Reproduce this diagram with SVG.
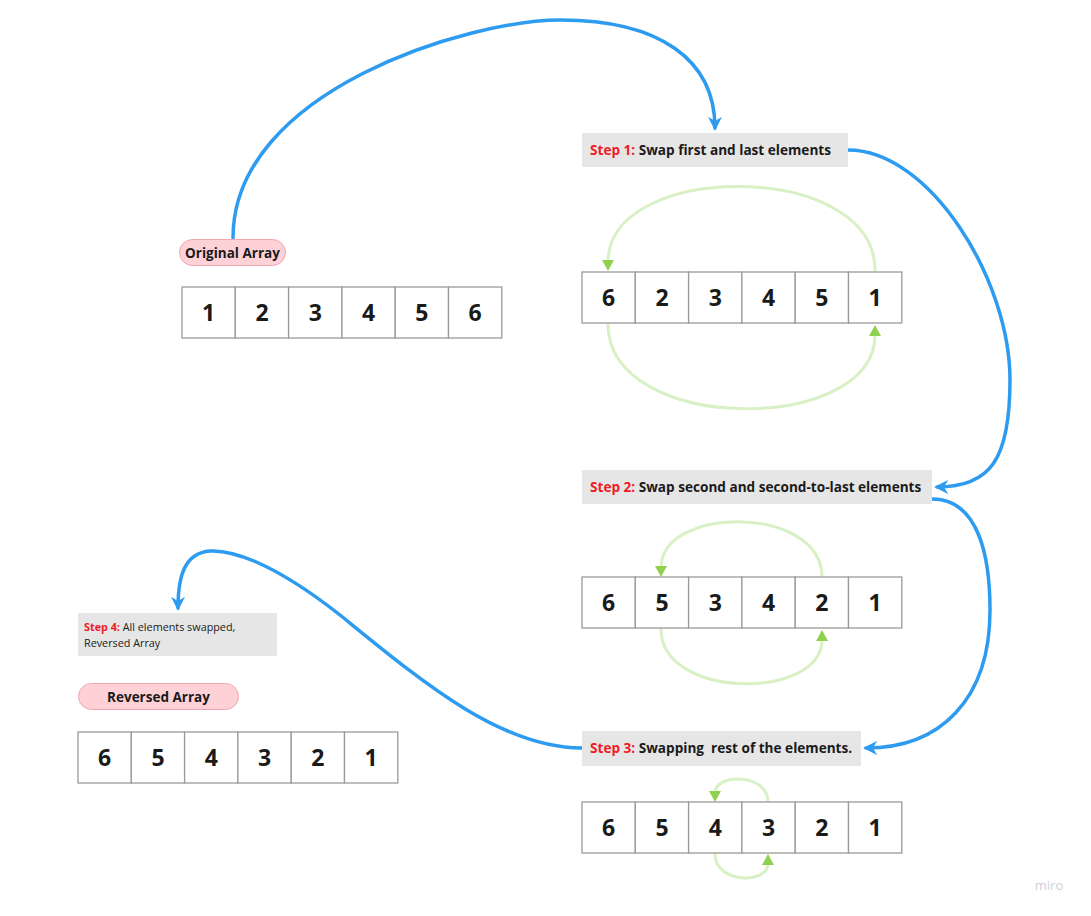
<svg xmlns="http://www.w3.org/2000/svg" width="1091" height="916" viewBox="0 0 1091 916">
<defs>
<style>
.t{font-family:"Open Sans","Noto Sans","Liberation Sans",sans-serif;fill:#1a1a1a;white-space:pre}
.num{font-size:23px;font-weight:700;text-anchor:middle}
.cell{fill:#ffffff;stroke:#9a9a9a;stroke-width:1.3}
.pill{fill:#fdd1d6;stroke:#f2a4ae;stroke-width:1}
.step{fill:#e6e6e6}
.st{font-size:13.6px;font-weight:700}
.red{fill:#ee1c25}
.blue{fill:none;stroke:#2d9bf0;stroke-width:3.5;stroke-linecap:round}
.green{fill:none;stroke:#d9f0c4;stroke-width:3;stroke-linecap:round}
.gh{fill:#8fd14f}
</style>
<marker id="ab" viewBox="0 0 10 10" refX="8" refY="5" markerWidth="4" markerHeight="4" orient="auto" markerUnits="strokeWidth">
<path d="M0,0 L10,5 L0,10 L3,5 Z" fill="#2d9bf0"/>
</marker>
</defs>
<rect width="1091" height="916" fill="#ffffff"/>

<g id="connectors">
<path class="blue" d="M233,238 C233,90 470,20 560,20 C660,20 715,60 715,128" marker-end="url(#ab)"/>
<path class="blue" d="M848,150 C930,150 1010,280 1010,380 C1010,460 990,487 937,487" marker-end="url(#ab)"/>
<path class="blue" d="M932,499 C980,499 990,560 990,610 C990,700 940,748 866,748" marker-end="url(#ab)"/>
<path class="blue" d="M582,748 C500,748 420,680 340,615 C270,560 230,550 210,551 C185,553 178,575 178,608" marker-end="url(#ab)"/>

<path class="green" d="M875,270 C875,160 608,160 608,262"/>
<path class="gh" d="M602,260 L614,260 L608,271 Z"/>
<path class="green" d="M608,324 C608,435 875,435 875,335"/>
<path class="gh" d="M869,336 L881,336 L875,325 Z"/>

<path class="green" d="M822,577 C822,505 661,505 661,568"/>
<path class="gh" d="M655,566 L667,566 L661,577 Z"/>
<path class="green" d="M661,629 C661,700 822,700 822,640"/>
<path class="gh" d="M816,641 L828,641 L822,630 Z"/>

<path class="green" d="M768,802 C768,773 715,773 715,793"/>
<path class="gh" d="M709,791 L721,791 L715,802 Z"/>
<path class="green" d="M715,854 C715,884 768,884 768,864"/>
<path class="gh" d="M762,865 L774,865 L768,854 Z"/>
</g>

<g id="original-label">
<rect class="pill" x="179.5" y="239.5" width="106" height="26" rx="13"/>
<text class="t" x="232.5" y="257.5" font-size="13.5" font-weight="700" text-anchor="middle">Original Array</text>
</g>

<g id="array-original">
<rect class="cell" x="182" y="287" width="53.3" height="51"/><text class="t num" x="208.6" y="321">1</text>
<rect class="cell" x="235.3" y="287" width="53.3" height="51"/><text class="t num" x="262" y="321">2</text>
<rect class="cell" x="288.6" y="287" width="53.3" height="51"/><text class="t num" x="315.3" y="321">3</text>
<rect class="cell" x="341.9" y="287" width="53.3" height="51"/><text class="t num" x="368.6" y="321">4</text>
<rect class="cell" x="395.2" y="287" width="53.3" height="51"/><text class="t num" x="421.9" y="321">5</text>
<rect class="cell" x="448.5" y="287" width="53.3" height="51"/><text class="t num" x="475.2" y="321">6</text>
</g>

<g id="step1">
<rect class="step" x="582" y="133" width="266" height="34"/>
<text class="t st" x="590" y="155"><tspan class="red">Step 1:</tspan> Swap first and last elements</text>
</g>

<g id="array-step1">
<rect class="cell" x="582" y="272" width="53.3" height="51"/><text class="t num" x="608.6" y="306">6</text>
<rect class="cell" x="635.3" y="272" width="53.3" height="51"/><text class="t num" x="662" y="306">2</text>
<rect class="cell" x="688.6" y="272" width="53.3" height="51"/><text class="t num" x="715.3" y="306">3</text>
<rect class="cell" x="741.9" y="272" width="53.3" height="51"/><text class="t num" x="768.6" y="306">4</text>
<rect class="cell" x="795.2" y="272" width="53.3" height="51"/><text class="t num" x="821.9" y="306">5</text>
<rect class="cell" x="848.5" y="272" width="53.3" height="51"/><text class="t num" x="875.2" y="306">1</text>
</g>

<g id="step2">
<rect class="step" x="582" y="470" width="350" height="34"/>
<text class="t st" x="590" y="492"><tspan class="red">Step 2:</tspan> Swap second and second-to-last elements</text>
</g>

<g id="array-step2">
<rect class="cell" x="582" y="577" width="53.3" height="51"/><text class="t num" x="608.6" y="611">6</text>
<rect class="cell" x="635.3" y="577" width="53.3" height="51"/><text class="t num" x="662" y="611">5</text>
<rect class="cell" x="688.6" y="577" width="53.3" height="51"/><text class="t num" x="715.3" y="611">3</text>
<rect class="cell" x="741.9" y="577" width="53.3" height="51"/><text class="t num" x="768.6" y="611">4</text>
<rect class="cell" x="795.2" y="577" width="53.3" height="51"/><text class="t num" x="821.9" y="611">2</text>
<rect class="cell" x="848.5" y="577" width="53.3" height="51"/><text class="t num" x="875.2" y="611">1</text>
</g>

<g id="step3">
<rect class="step" x="582" y="731" width="279" height="35"/>
<text class="t st" x="590" y="753" xml:space="preserve"><tspan class="red">Step 3:</tspan> Swapping  rest of the elements.</text>
</g>

<g id="array-step3">
<rect class="cell" x="582" y="802" width="53.3" height="51"/><text class="t num" x="608.6" y="836">6</text>
<rect class="cell" x="635.3" y="802" width="53.3" height="51"/><text class="t num" x="662" y="836">5</text>
<rect class="cell" x="688.6" y="802" width="53.3" height="51"/><text class="t num" x="715.3" y="836">4</text>
<rect class="cell" x="741.9" y="802" width="53.3" height="51"/><text class="t num" x="768.6" y="836">3</text>
<rect class="cell" x="795.2" y="802" width="53.3" height="51"/><text class="t num" x="821.9" y="836">2</text>
<rect class="cell" x="848.5" y="802" width="53.3" height="51"/><text class="t num" x="875.2" y="836">1</text>
</g>

<g id="step4">
<rect class="step" x="78" y="613" width="199" height="43"/>
<text class="t" x="84" y="631" font-size="10.8"><tspan class="red" font-weight="700">Step 4:</tspan> All elements swapped,</text>
<text class="t" x="84" y="647" font-size="10.8">Reversed Array</text>
</g>

<g id="reversed-label">
<rect class="pill" x="78.5" y="683.5" width="160" height="26" rx="13"/>
<text class="t" x="158.5" y="701.5" font-size="13.5" font-weight="700" text-anchor="middle">Reversed Array</text>
</g>

<g id="array-reversed">
<rect class="cell" x="78" y="732" width="53.3" height="51"/><text class="t num" x="104.6" y="766">6</text>
<rect class="cell" x="131.3" y="732" width="53.3" height="51"/><text class="t num" x="158" y="766">5</text>
<rect class="cell" x="184.6" y="732" width="53.3" height="51"/><text class="t num" x="211.3" y="766">4</text>
<rect class="cell" x="237.9" y="732" width="53.3" height="51"/><text class="t num" x="264.6" y="766">3</text>
<rect class="cell" x="291.2" y="732" width="53.3" height="51"/><text class="t num" x="317.9" y="766">2</text>
<rect class="cell" x="344.5" y="732" width="53.3" height="51"/><text class="t num" x="371.2" y="766">1</text>
</g>

<text x="1049" y="890" font-family="'Open Sans','Liberation Sans',sans-serif" font-size="13" fill="#cfcfdc" text-anchor="middle">miro</text>
</svg>
